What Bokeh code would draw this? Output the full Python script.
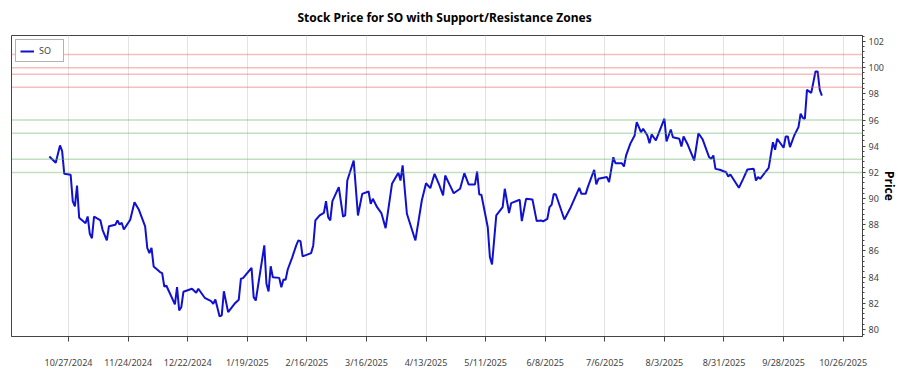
import pandas as pd
from bokeh.plotting import figure
from bokeh.models import (Range1d, FixedTicker, SingleIntervalTicker, Span,
                          Legend, LegendItem, ColumnDataSource)
from bokeh.embed import file_html
from bokeh.resources import INLINE

# ---------------- data ----------------
ticker_symbol = "SO"

dates = [
    "2024-10-18", "2024-10-21", "2024-10-23", "2024-10-24", "2024-10-25", "2024-10-28",
    "2024-10-29", "2024-10-30", "2024-10-31", "2024-11-01", "2024-11-04", "2024-11-05",
    "2024-11-06", "2024-11-07", "2024-11-08", "2024-11-11", "2024-11-12", "2024-11-14",
    "2024-11-15", "2024-11-18", "2024-11-19", "2024-11-20", "2024-11-21", "2024-11-22",
    "2024-11-25", "2024-11-27", "2024-11-29", "2024-12-02", "2024-12-03", "2024-12-04",
    "2024-12-05", "2024-12-06", "2024-12-09", "2024-12-10", "2024-12-11", "2024-12-12",
    "2024-12-16", "2024-12-17", "2024-12-18", "2024-12-19", "2024-12-20", "2024-12-24",
    "2024-12-26", "2024-12-27", "2024-12-30", "2025-01-02", "2025-01-03", "2025-01-04",
    "2025-01-06", "2025-01-07", "2025-01-08", "2025-01-10", "2025-01-13", "2025-01-15",
    "2025-01-16", "2025-01-17", "2025-01-21", "2025-01-22", "2025-01-23", "2025-01-27",
    "2025-01-28", "2025-01-29", "2025-01-30", "2025-01-31", "2025-02-03", "2025-02-04",
    "2025-02-05", "2025-02-06", "2025-02-07", "2025-02-09", "2025-02-11", "2025-02-12",
    "2025-02-13", "2025-02-14", "2025-02-18", "2025-02-19", "2025-02-20", "2025-02-22",
    "2025-02-24", "2025-02-25", "2025-02-26", "2025-02-27", "2025-02-28", "2025-03-03",
    "2025-03-05", "2025-03-06", "2025-03-07", "2025-03-10", "2025-03-12", "2025-03-14",
    "2025-03-17", "2025-03-18", "2025-03-19", "2025-03-21", "2025-03-23", "2025-03-25",
    "2025-03-28", "2025-03-31", "2025-04-01", "2025-04-02", "2025-04-04", "2025-04-08",
    "2025-04-11", "2025-04-13", "2025-04-15", "2025-04-17", "2025-04-19", "2025-04-21",
    "2025-04-22", "2025-04-24", "2025-04-26", "2025-04-29", "2025-05-01", "2025-05-03",
    "2025-05-06", "2025-05-07", "2025-05-08", "2025-05-09", "2025-05-12", "2025-05-13",
    "2025-05-14", "2025-05-16", "2025-05-19", "2025-05-20", "2025-05-22", "2025-05-23",
    "2025-05-27", "2025-05-28", "2025-05-30", "2025-06-02", "2025-06-04", "2025-06-06",
    "2025-06-07", "2025-06-09", "2025-06-10", "2025-06-11", "2025-06-12", "2025-06-13",
    "2025-06-17", "2025-06-20", "2025-06-24", "2025-06-25", "2025-06-27", "2025-06-28",
    "2025-07-01", "2025-07-02", "2025-07-03", "2025-07-07", "2025-07-08", "2025-07-10",
    "2025-07-11", "2025-07-14", "2025-07-15", "2025-07-16", "2025-07-18", "2025-07-20",
    "2025-07-21", "2025-07-23", "2025-07-24", "2025-07-26", "2025-07-27", "2025-07-28",
    "2025-07-30", "2025-08-03", "2025-08-04", "2025-08-06", "2025-08-07", "2025-08-10",
    "2025-08-11", "2025-08-12", "2025-08-14", "2025-08-17", "2025-08-19", "2025-08-21",
    "2025-08-24", "2025-08-25", "2025-08-26", "2025-08-27", "2025-08-29", "2025-09-01",
    "2025-09-02", "2025-09-03", "2025-09-07", "2025-09-09", "2025-09-11", "2025-09-14",
    "2025-09-15", "2025-09-16", "2025-09-17", "2025-09-21", "2025-09-23", "2025-09-24",
    "2025-09-25", "2025-09-28", "2025-09-29", "2025-09-30", "2025-10-01", "2025-10-03",
    "2025-10-05", "2025-10-06", "2025-10-07", "2025-10-08", "2025-10-09", "2025-10-11",
    "2025-10-13", "2025-10-14", "2025-10-15", "2025-10-16",
]

prices = [
    93.21, 92.73, 94.06, 93.62, 91.89, 91.82,
    89.78, 89.40, 91.00, 88.53, 88.12, 88.63,
    87.31, 86.97, 88.63, 88.33, 87.61, 86.80,
    87.89, 88.00, 88.33, 88.02, 88.15, 87.64,
    88.38, 89.72, 89.17, 87.87, 86.24, 85.83,
    86.24, 84.81, 84.38, 84.30, 83.28, 83.34,
    81.91, 83.23, 81.45, 81.70, 82.88, 83.11,
    82.80, 83.11, 82.42, 82.16, 81.96, 82.29,
    80.99, 81.07, 82.92, 81.32, 81.96, 82.27,
    83.87, 83.92, 84.71, 82.47, 82.21, 86.42,
    83.49, 82.90, 84.83, 83.99, 83.94, 83.23,
    83.82, 83.79, 84.58, 85.45, 86.42, 86.80,
    86.75, 85.58, 85.83, 86.42, 88.33, 88.71,
    88.91, 89.80, 88.58, 88.33, 89.80, 90.87,
    88.63, 88.71, 91.38, 92.91, 88.71, 90.36,
    90.54, 89.60, 89.98, 89.34, 88.89, 87.74,
    91.13, 91.97, 91.38, 92.53, 88.84, 86.80,
    89.85, 91.17, 90.80, 91.89, 91.13, 90.24,
    91.76, 91.08, 90.41, 90.75, 91.94, 91.08,
    91.08, 92.07, 90.31, 90.29, 87.81, 85.53,
    84.97, 88.71, 89.34, 90.75, 88.89, 89.65,
    89.91, 88.28, 89.98, 89.93, 88.28, 88.33,
    88.25, 88.45, 89.34, 89.52, 90.36, 90.31,
    88.40, 89.34, 90.82, 90.36, 90.36, 90.87,
    92.20, 91.08, 91.51, 91.64, 91.25, 93.16,
    92.70, 92.70, 92.45, 93.30, 94.20, 94.82,
    95.84, 95.07, 95.33, 94.82, 94.23, 94.90,
    94.44, 96.10, 94.36, 95.28, 94.69, 94.57,
    93.98, 94.74, 94.11, 92.91, 94.99, 94.51,
    93.16, 93.04, 93.29, 92.27, 92.20, 92.01,
    91.69, 91.84, 90.82, 91.51, 92.22, 92.27,
    91.38, 91.64, 91.51, 92.35, 94.31, 93.73,
    94.57, 93.88, 94.74, 94.74, 93.93, 94.82,
    95.46, 96.48, 96.17, 96.10, 98.31, 98.08,
    99.71, 99.71, 98.31, 97.87,
]

resistance_levels = [101.0, 100.0, 99.5, 98.5]
support_levels = [96.0, 95.0, 93.0, 92.0]

x_tick_dates = ["2024-10-27", "2024-11-24", "2024-12-22", "2025-01-19", "2025-02-16",
                "2025-03-16", "2025-04-13", "2025-05-11", "2025-06-08", "2025-07-06",
                "2025-08-03", "2025-08-31", "2025-09-28", "2025-10-26"]
x_tick_labels = ["10/27/2024", "11/24/2024", "12/22/2024", "1/19/2025", "2/16/2025",
                 "3/16/2025", "4/13/2025", "5/11/2025", "6/8/2025", "7/6/2025",
                 "8/3/2025", "8/31/2025", "9/28/2025", "10/26/2025"]

title_text = "Stock Price for SO with Support/Resistance Zones"
y_label = "Price"

# ---------------- figure ----------------
dt = pd.to_datetime(dates)
source = ColumnDataSource(data=dict(date=dt, price=prices))

FONT = "Noto Sans"

p = figure(width=900, height=375, x_axis_type="datetime", y_axis_location="right",
           output_backend="svg", toolbar_location=None,
           x_range=Range1d(pd.Timestamp("2024-09-30 05:00"), pd.Timestamp("2025-11-04 02:00")),
           y_range=Range1d(79.46, 102.46),
           min_border_left=11, min_border_top=35, min_border_bottom=39, min_border_right=0)

p.title.text = title_text
p.title.align = "left"
p.title.offset = 286
p.title.standoff = 16
p.title.vertical_align = "top"
p.title.text_font = FONT
p.title.text_font_size = "12px"
p.title.text_font_style = "bold"
p.title.text_color = "#000000"

p.outline_line_color = "#444444"
p.outline_line_width = 1
p.background_fill_color = "white"
p.border_fill_color = "white"

# support / resistance lines
for lvl in resistance_levels:
    p.add_layout(Span(location=lvl, dimension="width", line_color="#e06060",
                      line_alpha=0.4, line_width=1.5))
for lvl in support_levels:
    p.add_layout(Span(location=lvl, dimension="width", line_color="#60b060",
                      line_alpha=0.4, line_width=1.5))

line = p.line("date", "price", source=source, line_color="#1010d0", line_width=2)

# x axis
tick_ms = [pd.Timestamp(d).value // 10**6 for d in x_tick_dates]
p.xaxis.ticker = FixedTicker(ticks=tick_ms)
p.xaxis.major_label_overrides = {t: lab for t, lab in zip(tick_ms, x_tick_labels)}
p.xaxis.major_tick_in = 0
p.xaxis.major_tick_out = 5
p.xaxis.minor_tick_out = 0
p.xaxis.major_label_standoff = 14
p.xaxis.major_label_text_font = FONT
p.xaxis.major_label_text_font_size = "9px"
p.xaxis.major_label_text_color = "#444444"
p.xaxis.axis_line_color = "#444444"
p.xaxis.major_tick_line_color = "#444444"

# y axis (right)
p.yaxis.ticker = SingleIntervalTicker(interval=2, num_minor_ticks=5)
p.yaxis.major_tick_in = 0
p.yaxis.major_tick_out = 3
p.yaxis.minor_tick_in = 0
p.yaxis.minor_tick_out = 2
p.yaxis.major_label_standoff = 3
p.yaxis.major_label_text_font = FONT
p.yaxis.major_label_text_font_size = "9px"
p.yaxis.major_label_text_color = "#444444"
p.yaxis.axis_line_color = "#444444"
p.yaxis.major_tick_line_color = "#444444"
p.yaxis.minor_tick_line_color = "#444444"
p.yaxis.axis_label = y_label
p.yaxis.axis_label_text_font = FONT
p.yaxis.axis_label_text_font_size = "12px"
p.yaxis.axis_label_text_font_style = "bold"
p.yaxis.axis_label_text_color = "#000000"
p.yaxis.axis_label_text_baseline = "top"
p.yaxis.axis_label_standoff = -6

# grid
p.ygrid.visible = False
p.xgrid.grid_line_color = "#e3e3e3"
p.xgrid.grid_line_width = 1

# legend
legend = Legend(items=[LegendItem(label=ticker_symbol, renderers=[line])],
                location="top_left", margin=4, padding=4, spacing=0,
                glyph_width=14, glyph_height=10, label_standoff=5,
                label_width=20, label_height=10,
                label_text_font=FONT, label_text_font_size="9px",
                border_line_color="#666666", border_line_width=1,
                background_fill_color="white", background_fill_alpha=1.0)
p.add_layout(legend)

open("out.html", "w").write(file_html(p, INLINE))
